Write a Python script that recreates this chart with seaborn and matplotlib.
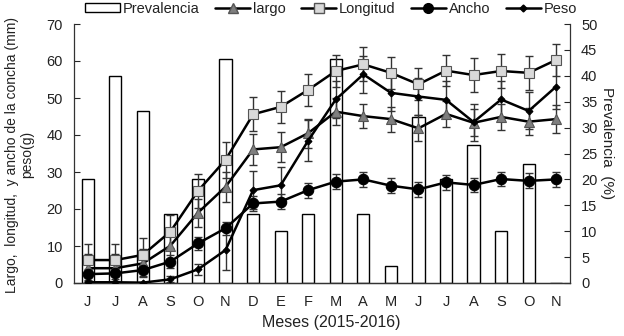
import numpy as np
import pandas as pd
import matplotlib
matplotlib.use("Agg")
import matplotlib.pyplot as plt
import seaborn as sns
from matplotlib.lines import Line2D
from matplotlib.patches import Patch

# -------------------------
# Data
# -------------------------
months = ["J", "J", "A", "S", "O", "N", "D", "E", "F",
          "M", "A", "M", "J", "J", "A", "S", "O", "N"]

prevalencia = [20, 40, 33.3, 13.3, 20, 43.3, 13.3, 10, 13.3,
               43.3, 13.3, 3.3, 32, 20, 26.7, 10, 23, 0]

longitud = [6.2, 6.2, 7.6, 13.9, 24.9, 33.3, 45.6, 47.6, 52.2,
            57.3, 59.1, 56.8, 53.7, 57.4, 56.2, 57.3, 56.8, 60.3]
longitud_sd = [4.3, 4.4, 4.5, 4.5, 4.5, 4.9, 4.6, 4.3, 4.3,
               4.3, 4.6, 4.4, 4.3, 4.2, 4.5, 4.6, 4.6, 4.3]

largo = [4.0, 4.0, 5.3, 10.1, 19.0, 26.0, 36.1, 36.7, 40.5,
         46.3, 45.1, 44.3, 41.8, 45.7, 43.3, 44.9, 43.6, 44.3]
largo_sd = [3.8, 3.8, 3.8, 3.8, 3.8, 4.0, 4.2, 4.0, 3.9,
            3.6, 3.3, 3.4, 3.5, 3.5, 3.6, 3.5, 3.6, 3.8]

ancho = [2.4, 2.6, 3.5, 5.8, 10.7, 14.8, 21.5, 22.0, 25.1,
         27.4, 28.0, 26.3, 25.3, 27.2, 26.5, 28.1, 27.6, 28.0]
ancho_sd = [1.5, 1.5, 1.5, 1.8, 1.8, 1.8, 2.0, 2.0, 2.0,
            2.0, 2.1, 2.0, 2.0, 2.0, 2.0, 2.0, 2.0, 2.0]

peso = [0.2, 0.2, 0.1, 1.0, 3.7, 8.9, 25.1, 26.4, 38.5,
        49.6, 56.4, 51.4, 50.4, 49.5, 43.5, 49.6, 46.5, 53.1]
peso_sd = [0.3, 0.3, 0.3, 0.8, 1.5, 5.4, 5.2, 5.0, 5.5,
           5.0, 5.0, 5.0, 5.0, 5.0, 5.0, 5.0, 5.0, 6.0]

# -------------------------
# Style
# -------------------------
sns.set_style("white")
plt.rcParams["font.family"] = ["Liberation Sans", "DejaVu Sans"]
plt.rcParams["font.size"] = 10

idx = np.arange(len(months))
bar_df = pd.DataFrame({"idx": idx, "prevalencia": prevalencia})

fig = plt.figure(figsize=(6.24, 3.36), dpi=100)
ax = fig.add_axes([74 / 624, 1 - 283 / 336, (570 - 74) / 624, (283 - 24) / 336])
ax2 = ax.twinx()

# bars on the right axis, behind the lines
sns.barplot(data=bar_df, x="idx", y="prevalencia", ax=ax2, color="white",
            edgecolor="black", linewidth=1.0, width=0.44, saturation=1)
ax.set_zorder(ax2.get_zorder() + 1)
ax.patch.set_visible(False)

series = [
    ("largo", largo, largo_sd, "^", "#7f7f7f", "#555555", 7.5),
    ("Longitud", longitud, longitud_sd, "s", "#d9d9d9", "#555555", 7.5),
    ("Ancho", ancho, ancho_sd, "o", "black", "black", 7.5),
    ("Peso", peso, peso_sd, "D", "black", "black", 3.5),
]

for name, vals, sd, mk, fc, ec, ms in series:
    ax.errorbar(idx, vals, yerr=sd, fmt="none", ecolor="#333333",
                elinewidth=1.0, capsize=3.2, capthick=1.0, zorder=2)
    sns.lineplot(x=idx, y=vals, ax=ax, color="black", linewidth=1.8,
                 marker=mk, markersize=ms, markerfacecolor=fc,
                 markeredgecolor=ec, markeredgewidth=0.8, zorder=3)

# axes limits and ticks
ax.set_xlim(-0.5, len(months) - 0.5)
ax.set_ylim(0, 70)
ax2.set_ylim(0, 50)
ax.set_yticks(np.arange(0, 71, 10))
ax2.set_yticks(np.arange(0, 51, 5))
ax.set_xticks(idx)
ax.set_xticklabels(months)
ax.set_xticks(idx[:-1] + 0.5, minor=True)
ax.tick_params(axis="x", which="major", length=0, pad=9, labelsize=10.5,
               labelcolor="#222222")
ax.tick_params(axis="x", which="minor", direction="in", length=3, width=0.8)
ax.tick_params(axis="y", direction="in", length=4, width=0.8, pad=8,
               labelsize=10.5, labelcolor="#222222")
ax2.tick_params(axis="y", direction="in", length=4, width=0.8, pad=8,
                labelsize=10.5, labelcolor="#222222")
ax.set_xlabel("")
ax.set_ylabel("")
ax2.set_xlabel("")
ax2.set_ylabel("")

for a in (ax, ax2):
    a.spines["top"].set_visible(False)
    for s in ("left", "right", "bottom"):
        a.spines[s].set_color("#333333")
        a.spines[s].set_linewidth(0.9)
ax.spines["right"].set_visible(False)
ax2.spines["left"].set_visible(False)

# labels
fig.text(20 / 624, 0.54, "Largo,  longitud,  y ancho de la concha (mm)\npeso(g)",
         rotation=90, ha="center", va="center", multialignment="center",
         fontsize=10, color="#222222", linespacing=1.1)
fig.text(607 / 624, 1 - 143 / 336, "Prevalencia  (%)", rotation=270,
         ha="center", va="center", fontsize=11, color="#222222")
fig.text(331 / 624, 1 - 322 / 336, "Meses (2015-2016)", ha="center",
         va="center", fontsize=11.5, color="#222222")

# legend
handles = [
    Patch(facecolor="white", edgecolor="black", linewidth=1.0, label="Prevalencia"),
    Line2D([0], [0], color="black", lw=1.8, marker="^", markersize=7,
           markerfacecolor="#7f7f7f", markeredgecolor="#555555", label="largo"),
    Line2D([0], [0], color="black", lw=1.8, marker="s", markersize=7.5,
           markerfacecolor="#d9d9d9", markeredgecolor="#555555", label="Longitud"),
    Line2D([0], [0], color="black", lw=1.8, marker="o", markersize=7,
           markerfacecolor="black", label="Ancho"),
    Line2D([0], [0], color="black", lw=1.8, marker="D", markersize=3.5,
           markerfacecolor="black", label="Peso"),
]
fig.legend(handles=handles, loc="center", bbox_to_anchor=(331 / 624, 1 - 9 / 336),
           ncol=5, frameon=False, fontsize=10.5, handlelength=2.4,
           handleheight=0.6, handletextpad=0.2, columnspacing=1.05,
           borderaxespad=0, labelcolor="#222222")

fig.savefig("out.png", dpi=100)
